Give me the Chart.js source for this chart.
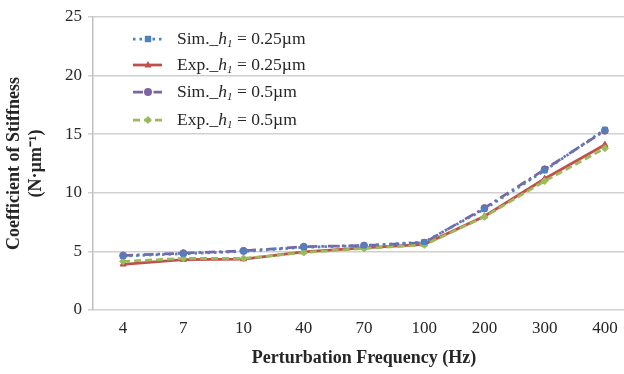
<!DOCTYPE html>
<html>
<head>
<meta charset="utf-8">
<script src="https://cdn.jsdelivr.net/npm/chart.js@4/dist/chart.umd.min.js"></script>
<style>
html,body{margin:0;padding:0;background:#fff;overflow:hidden;}
#wrap{position:relative;width:624px;height:374px;overflow:hidden;}
#c{position:absolute;left:0;top:0;}
#legend{position:absolute;left:0;top:0;width:0;height:0;}
.lg{position:absolute;left:177px;font-family:"Liberation Serif","Times New Roman",serif;font-size:17.5px;color:#262626;white-space:nowrap;line-height:20px;}
.lg i sub{font-size:11px;vertical-align:-3px;}
</style>
</head>
<body>
<div id="wrap">
<canvas id="c" width="640" height="374"></canvas>
<div id="legend"></div>
</div>
<script>
const categories = ['4','7','10','40','70','100','200','300','400'];
const sim025 = [4.6, 4.8, 5.0, 5.35, 5.5, 5.8, 8.6, 11.9, 15.4];
const exp025 = [3.9, 4.3, 4.35, 4.95, 5.3, 5.6, 8.0, 11.2, 14.1];
const sim05  = [4.65, 4.85, 5.05, 5.4, 5.5, 5.75, 8.7, 12.0, 15.3];
const exp05  = [4.15, 4.4, 4.4, 4.9, 5.25, 5.55, 7.95, 11.0, 13.8];
const yTicks = [0, 5, 10, 15, 20, 25];
const legendPrefix = ['Sim._', 'Exp._', 'Sim._', 'Exp._'];
const legendSuffix = [' = 0.25µm', ' = 0.25µm', ' = 0.5µm', ' = 0.5µm'];

const serif = '"Liberation Serif","Times New Roman",serif';

const datasets = [
  {label: 'Sim._h1 = 0.25µm', data: sim025, borderColor: '#4F81BD', backgroundColor: '#4F81BD',
   borderDash: [2.5, 4], pointStyle: 'rect', pointRadius: 3.5, order: 0},
  {label: 'Exp._h1 = 0.25µm', data: exp025, borderColor: '#C0504D', backgroundColor: '#C0504D',
   borderDash: [], pointStyle: 'triangle', pointRadius: 3.5, order: 3},
  {label: 'Sim._h1 = 0.5µm', data: sim05, borderColor: '#8064A2', backgroundColor: '#8064A2',
   borderDash: [10, 4, 2.5, 4], pointStyle: 'circle', pointRadius: 3.5, order: 2},
  {label: 'Exp._h1 = 0.5µm', data: exp05, borderColor: '#9BBB59', backgroundColor: '#9BBB59',
   borderDash: [7, 4], pointStyle: 'rectRot', pointRadius: 3.5, order: 1}
];
datasets.forEach(d => { d.borderWidth = 2.75; d.fill = false; d.tension = 0; d.pointBorderWidth = 1; d.pointBorderColor = d.borderColor; });

const legendRows = [39, 65, 92, 120];

const legendSamples = {
  id: 'legendSamples',
  afterDatasetsDraw(chart) {
    const ctx = chart.ctx;
    datasets.forEach((d, i) => {
      const y = legendRows[i];
      ctx.save();
      ctx.strokeStyle = d.borderColor;
      ctx.lineWidth = 2.75;
      ctx.setLineDash(d.borderDash);
      ctx.beginPath(); ctx.moveTo(133, y); ctx.lineTo(162, y); ctx.stroke();
      ctx.setLineDash([]);
      ctx.fillStyle = d.backgroundColor;
      const x = 148, r = d.pointRadius + 0.5;
      ctx.beginPath();
      if (d.pointStyle === 'rect') { ctx.rect(x - r * 0.8, y - r * 0.8, r * 1.6, r * 1.6); }
      else if (d.pointStyle === 'circle') { ctx.arc(x, y, r, 0, Math.PI * 2); }
      else if (d.pointStyle === 'triangle') { ctx.moveTo(x, y - r); ctx.lineTo(x + r * 0.9, y + r * 0.6); ctx.lineTo(x - r * 0.9, y + r * 0.6); ctx.closePath(); }
      else { ctx.moveTo(x, y - r); ctx.lineTo(x + r, y); ctx.lineTo(x, y + r); ctx.lineTo(x - r, y); ctx.closePath(); }
      ctx.fill();
      ctx.restore();
    });
  }
};

const lg = document.getElementById('legend');
legendPrefix.forEach((p, i) => {
  const div = document.createElement('div');
  div.className = 'lg';
  div.style.top = (legendRows[i] - 11) + 'px';
  div.innerHTML = p + '<i>h<sub>1</sub></i>' + legendSuffix[i];
  lg.appendChild(div);
});

new Chart(document.getElementById('c'), {
  type: 'line',
  data: {labels: categories, datasets},
  plugins: [legendSamples],
  options: {
    responsive: false,
    animation: false,
    layout: {padding: {top: 17, right: 0, left: 0, bottom: 0}},
    plugins: {legend: {display: false}, tooltip: {enabled: false}},
    scales: {
      x: {
        type: 'category', offset: true,
        afterFit: s => { s.height = 64; },
        grid: {display: false, drawTicks: false},
        border: {display: false},
        ticks: {color: '#262626', font: {family: serif, size: 17}, padding: 8, maxRotation: 0, autoSkip: false},
        title: {display: true, text: 'Perturbation Frequency (Hz)', color: '#262626', font: {family: serif, size: 18, weight: 'bold'}, padding: {top: 0, bottom: 5}}
      },
      y: {
        min: 0, max: 25,
        afterBuildTicks: s => { s.ticks = yTicks.map(v => ({value: v})); },
        afterFit: s => { s.width = 93; },
        grid: {color: '#D0D0D0', lineWidth: 1.5, tickLength: 5},
        border: {display: true, color: '#BFBFBF', width: 1.5},
        ticks: {color: '#262626', font: {family: serif, size: 17}, padding: 6},
        title: {display: true, text: ['Coefficient of Stiffness', '(N·µm⁻¹)'], color: '#262626', font: {family: serif, size: 18, weight: 'bold'}, padding: {top: 4, bottom: 2}}
      }
    }
  }
});
</script>
</body>
</html>
